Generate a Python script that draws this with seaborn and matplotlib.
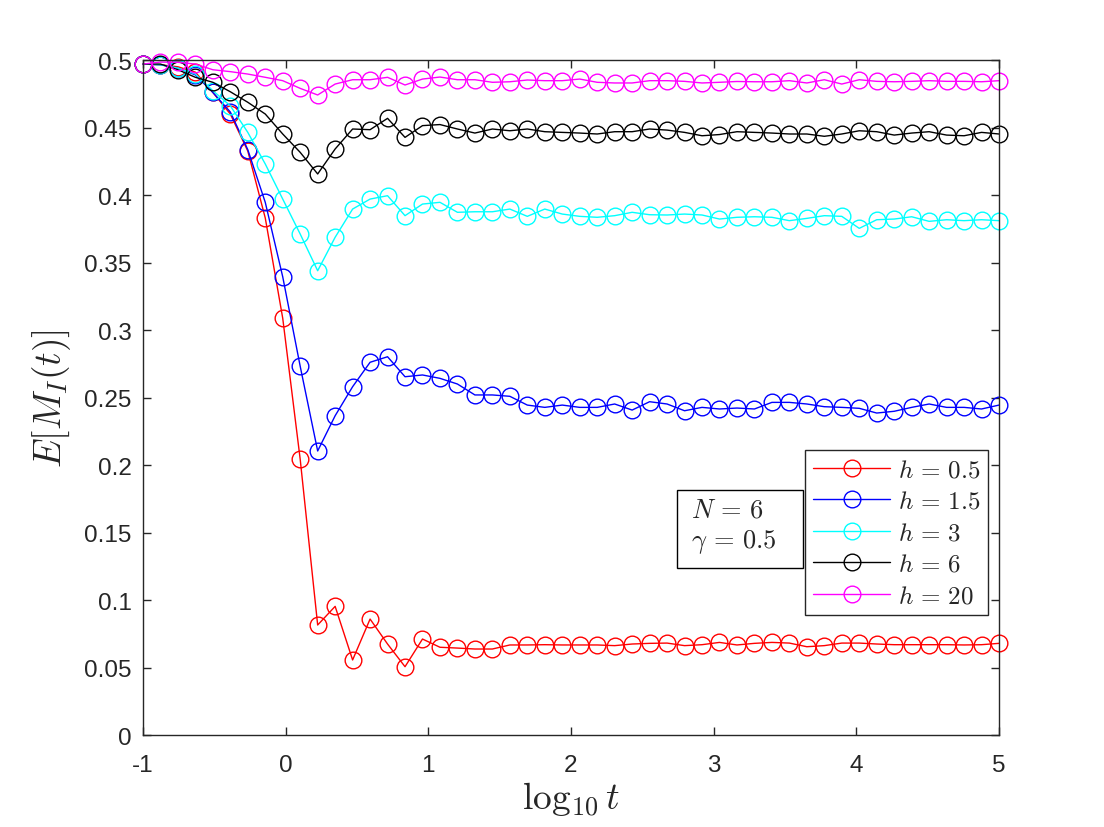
import numpy as np
import pandas as pd
import matplotlib
matplotlib.use('Agg')
import matplotlib.pyplot as plt
import seaborn as sns
from matplotlib.patches import Rectangle

# time grid (log10 t), 50 evenly spaced samples from -1 to 5
log_t = np.linspace(-1, 5, 50)

h_labels = [r'$h \,=\, 0.5$', r'$h \,=\, 1.5$', r'$h \,=\, 3$', r'$h \,=\, 6$', r'$h \,=\, 20$']
colors = ['#ff0000', '#0000ff', '#00ffff', '#000000', '#ff00ff']

m_h05 = [0.497, 0.4965, 0.495, 0.491, 0.476, 0.460, 0.4326, 0.383, 0.3087, 0.2042,
         0.0815, 0.0953, 0.0556, 0.0859, 0.0674, 0.0506, 0.0711, 0.065, 0.0644, 0.0637,
         0.0637, 0.0667, 0.0667, 0.0669, 0.0667, 0.0667, 0.0667, 0.0662, 0.0674, 0.0679,
         0.0681, 0.0662, 0.0669, 0.0686, 0.0667, 0.0679, 0.0686, 0.0681, 0.0654, 0.0662,
         0.0681, 0.0681, 0.0674, 0.0669, 0.0669, 0.0669, 0.0669, 0.0667, 0.0669, 0.0679]

m_h15 = [0.497, 0.4965, 0.494, 0.489, 0.476, 0.4615, 0.4336, 0.3946, 0.3394, 0.2731,
         0.2104, 0.2365, 0.258, 0.2761, 0.2802, 0.2654, 0.2667, 0.2642, 0.26, 0.2519,
         0.2519, 0.2509, 0.2444, 0.2427, 0.2444, 0.2427, 0.2427, 0.2452, 0.2407, 0.2469,
         0.2452, 0.2402, 0.2427, 0.2415, 0.2422, 0.2415, 0.2464, 0.2464, 0.2452, 0.2432,
         0.2427, 0.242, 0.2385, 0.2398, 0.2427, 0.2452, 0.2427, 0.2427, 0.2415, 0.2444]

m_h3 = [0.497, 0.4965, 0.494, 0.4896, 0.4773, 0.4661, 0.4464, 0.423, 0.397, 0.3711,
        0.3439, 0.3687, 0.3896, 0.397, 0.3995, 0.3847, 0.3933, 0.3946, 0.3872, 0.3876,
        0.3876, 0.3896, 0.3842, 0.3896, 0.3859, 0.3842, 0.3835, 0.3847, 0.3872, 0.3854,
        0.3852, 0.3859, 0.3852, 0.3822, 0.3835, 0.3839, 0.3835, 0.381, 0.3827, 0.3847,
        0.3842, 0.3753, 0.3817, 0.3822, 0.3839, 0.3805, 0.3817, 0.381, 0.3817, 0.381]

m_h6 = [0.497, 0.497, 0.4928, 0.4872, 0.4835, 0.4765, 0.4687, 0.46, 0.4452, 0.4316,
        0.4156, 0.4341, 0.4489, 0.4484, 0.4568, 0.4427, 0.4514, 0.4522, 0.4489, 0.4459,
        0.4489, 0.4476, 0.4489, 0.4469, 0.4464, 0.4459, 0.4452, 0.4469, 0.4469, 0.4489,
        0.4481, 0.4464, 0.4439, 0.4448, 0.4469, 0.4464, 0.4459, 0.4452, 0.4452, 0.4435,
        0.4452, 0.4476, 0.4469, 0.4444, 0.4459, 0.4469, 0.4444, 0.4439, 0.4464, 0.4452]

m_h20 = [0.497, 0.4985, 0.4983, 0.497, 0.4928, 0.4914, 0.4896, 0.4872, 0.4847, 0.479,
         0.4741, 0.4822, 0.4854, 0.4854, 0.4872, 0.4815, 0.4859, 0.4874, 0.4854, 0.4854,
         0.4835, 0.4839, 0.4852, 0.4847, 0.4847, 0.4859, 0.4835, 0.483, 0.483, 0.4847,
         0.4847, 0.4842, 0.483, 0.4835, 0.4841, 0.4839, 0.4839, 0.4847, 0.483, 0.4854,
         0.4822, 0.4854, 0.4842, 0.4839, 0.4842, 0.4847, 0.4842, 0.4842, 0.4839, 0.4847]

series = [m_h05, m_h15, m_h3, m_h6, m_h20]

sns.set_style('ticks')
plt.rcParams['font.family'] = ['Liberation Sans', 'DejaVu Sans']
plt.rcParams['mathtext.fontset'] = 'cm'

fig = plt.figure(figsize=(11.04, 8.28), dpi=100)
ax = fig.add_axes([0.1295, 0.1111, 0.7754, 0.8152])

for lab, col, vals in zip(h_labels, colors, series):
    df = pd.DataFrame({'log_t': log_t, 'M': vals})
    sns.lineplot(data=df, x='log_t', y='M', ax=ax, color=col, lw=1.0,
                 marker='o', markersize=12, mfc='none', mec=col, mew=1.0,
                 label=lab, clip_on=False)

ax.set_xlim(-1, 5)
ax.set_ylim(0, 0.5)
ax.set_xticks(range(-1, 6))
ax.set_xticklabels(['-1', '0', '1', '2', '3', '4', '5'])
yt = np.arange(0, 0.51, 0.05)
ax.set_yticks(yt)
ax.set_yticklabels(['0', '0.05', '0.1', '0.15', '0.2', '0.25', '0.3', '0.35', '0.4', '0.45', '0.5'])

ax.tick_params(direction='in', length=6, width=1, colors='#262626', labelsize=17.5,
               top=True, right=True)
ax.tick_params(axis='x', pad=14)
ax.tick_params(axis='y', pad=8)
for sp in ax.spines.values():
    sp.set_visible(True)
    sp.set_color('#262626')
    sp.set_linewidth(1.0)

ax.set_xlabel(r'$\log_{10} t$', fontsize=27, labelpad=2)
ax.set_ylabel(r'$E[M_I(t)]$', fontsize=27, labelpad=8)

leg = ax.legend(loc='lower right', bbox_to_anchor=(0.987, 0.178), borderaxespad=0,
                fontsize=18, fancybox=False, framealpha=1, edgecolor='#262626',
                handlelength=3.1, labelspacing=0.3, borderpad=0.3, handletextpad=0.3)
leg.get_frame().set_linewidth(1.0)

# parameter box
ax.add_patch(Rectangle((0.6238, 0.2474), 0.1472, 0.1156, transform=ax.transAxes,
                       fill=True, facecolor='white', edgecolor='black', lw=1.0, zorder=5))
ax.text(0.640, 0.324, r'$N \,=\, 6$', transform=ax.transAxes, fontsize=19, va='baseline', zorder=6)
ax.text(0.640, 0.278, r'$\gamma \,=\, 0.5$', transform=ax.transAxes, fontsize=19, va='baseline', zorder=6)

fig.savefig('out.png', dpi=100)
